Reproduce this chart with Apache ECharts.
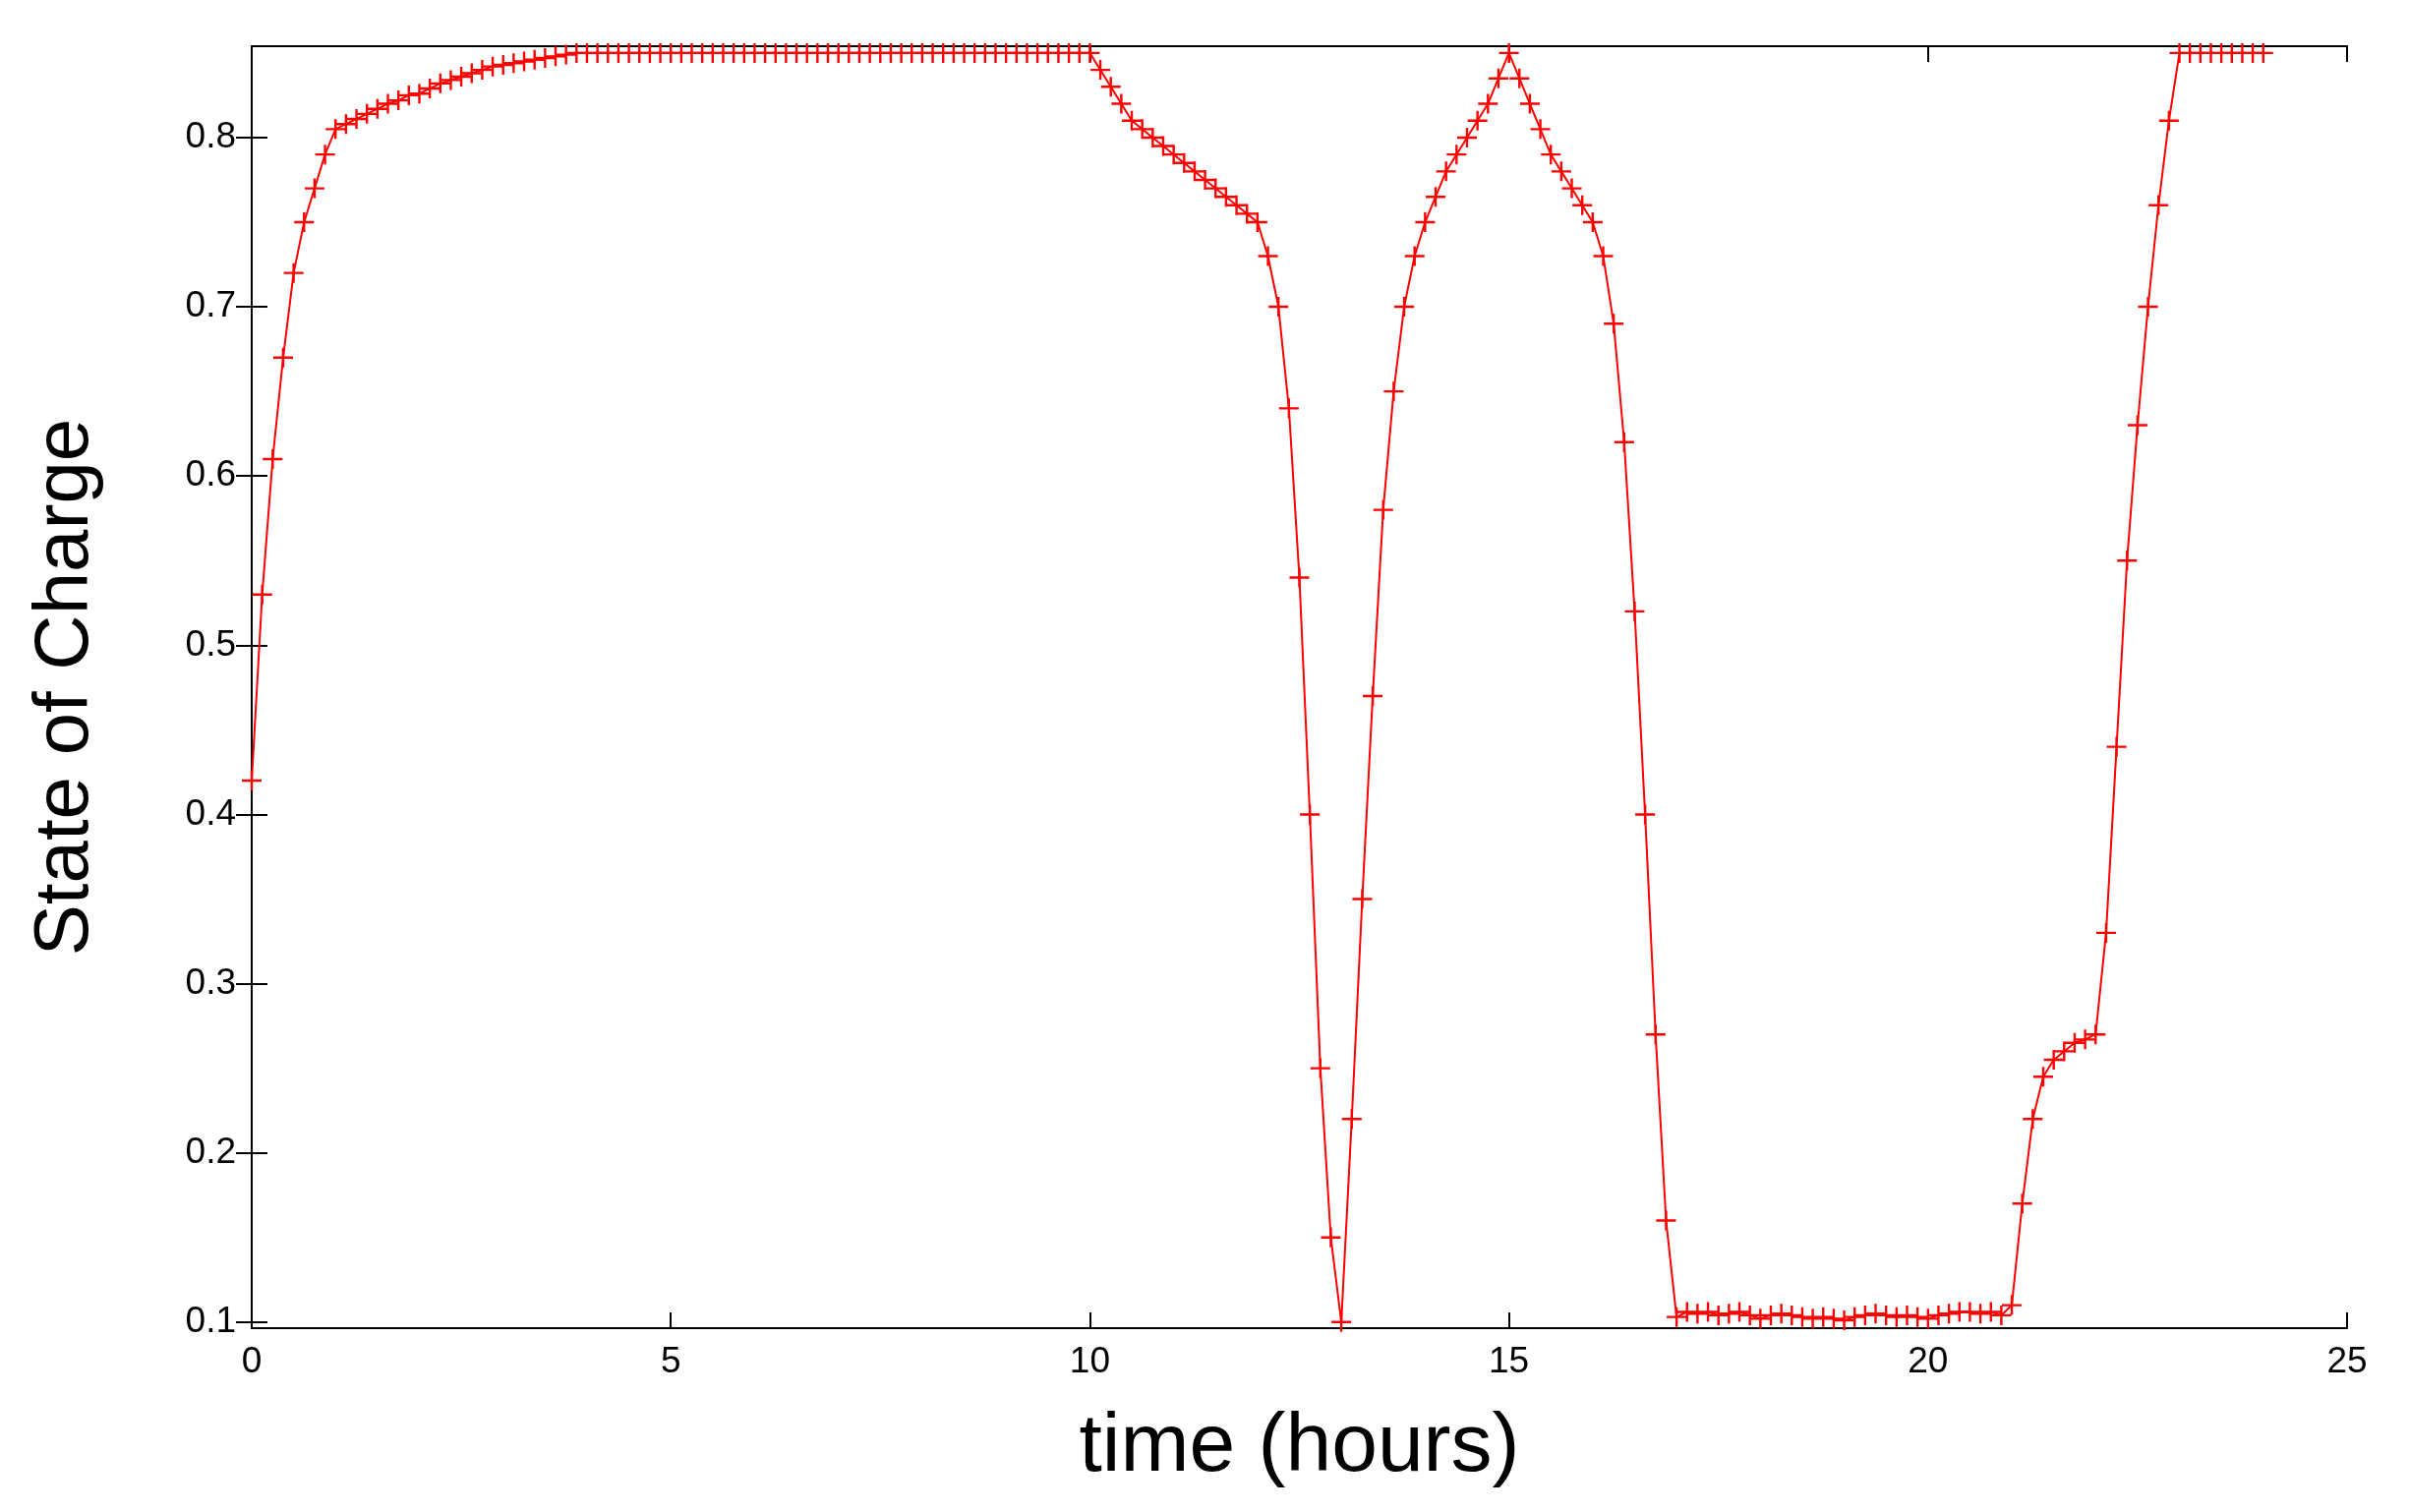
<!DOCTYPE html>
<html><head><meta charset="utf-8">
<script src="https://cdn.jsdelivr.net/npm/echarts@6/dist/echarts.min.js"></script>
<style>html,body{margin:0;background:#fff}#c{width:2450px;height:1538px}</style>
</head><body><div id="c"></div>
<script>
// state of charge sampled every 7.5 minutes, hours 0..24
const step = 0.125;
const soc = [
  0.42,0.53,0.61,0.67,0.72,0.75,0.77,0.79,
  0.805,0.808,0.811,0.814,0.817,0.82,0.822,0.825,
  0.826,0.829,0.832,0.834,0.836,0.838,0.84,0.842,
  0.843,0.844,0.845,0.846,0.847,0.848,0.849,0.85,
  0.85,0.85,0.85,0.85,0.85,0.85,0.85,0.85,
  0.85,0.85,0.85,0.85,0.85,0.85,0.85,0.85,
  0.85,0.85,0.85,0.85,0.85,0.85,0.85,0.85,
  0.85,0.85,0.85,0.85,0.85,0.85,0.85,0.85,
  0.85,0.85,0.85,0.85,0.85,0.85,0.85,0.85,
  0.85,0.85,0.85,0.85,0.85,0.85,0.85,0.85,
  0.85,0.84,0.83,0.82,0.81,0.805,0.80,0.795,
  0.79,0.785,0.78,0.775,0.77,0.765,0.76,0.755,
  0.75,0.73,0.70,0.64,0.54,0.40,0.25,0.15,
  0.10,0.22,0.35,0.47,0.58,0.65,0.70,0.73,
  0.75,0.765,0.78,0.79,0.80,0.81,0.82,0.835,
  0.85,0.835,0.82,0.805,0.79,0.78,0.77,0.76,
  0.75,0.73,0.69,0.62,0.52,0.40,0.27,0.16,
  0.103,0.106,0.105,0.106,0.104,0.105,0.106,0.104,
  0.102,0.104,0.105,0.104,0.103,0.102,0.103,0.102,
  0.101,0.103,0.104,0.105,0.104,0.103,0.104,0.103,
  0.102,0.104,0.105,0.106,0.106,0.105,0.106,0.104,
  0.11,0.17,0.22,0.245,0.255,0.26,0.265,0.267,
  0.27,0.33,0.44,0.55,0.63,0.70,0.76,0.81,
  0.85,0.85,0.85,0.85,0.85,0.85,0.85,0.85,
  0.85
];
const yTicks = [0.1, 0.2, 0.3, 0.4, 0.5, 0.6, 0.7, 0.8];

const data = soc.map((v, i) => [i * step, v]);
const plus = 'path://M4.4,0H5.6V4.4H10V5.6H5.6V10H4.4V5.6H0V4.4H4.4Z';
const font = 'Liberation Sans, Arial';
const lbl = {color: '#000', fontSize: 37, fontFamily: font, margin: 16};
const line = {lineStyle: {color: '#000', width: 2}};
const tick = () => ({inside: true, length: 16, lineStyle: {color: '#000', width: 2}});

const chart = echarts.init(document.getElementById('c'));
chart.setOption({
  backgroundColor: '#fff',
  animation: false,
  grid: {left: 256, right: 63, top: 47, bottom: 187},
  xAxis: [
    {type: 'value', min: 0, max: 25, interval: 5, axisLine: line, axisTick: tick(),
     axisLabel: lbl, splitLine: {show: false},
     name: 'time (hours)', nameLocation: 'middle', nameGap: 80,
     nameTextStyle: {fontSize: 84, fontFamily: font, color: '#000'}},
    {type: 'value', position: 'top', min: 0, max: 25, interval: 5, axisLine: line,
     axisTick: tick(), axisLabel: {show: false}, splitLine: {show: false}}
  ],
  yAxis: [
    {type: 'value', min: 0.0964, max: 0.854, axisLine: line,
     axisTick: Object.assign(tick(), {customValues: yTicks}),
     axisLabel: Object.assign({}, lbl, {customValues: yTicks, formatter: v => v.toFixed(1)}),
     splitLine: {show: false},
     name: 'State of Charge', nameLocation: 'middle', nameGap: 150,
     nameTextStyle: {fontSize: 78, fontFamily: font, color: '#000'}},
    {type: 'value', position: 'right', min: 0.0964, max: 0.854, axisLine: line,
     axisTick: Object.assign(tick(), {customValues: yTicks}),
     axisLabel: {show: true, color: 'rgba(0,0,0,0)', customValues: yTicks},
     splitLine: {show: false}}
  ],
  series: [{
    type: 'line', data: data, symbol: plus, symbolSize: 20,
    showAllSymbol: true,
    lineStyle: {color: '#ff0000', width: 2},
    itemStyle: {color: '#ff0000'}
  }]
});
</script></body></html>
